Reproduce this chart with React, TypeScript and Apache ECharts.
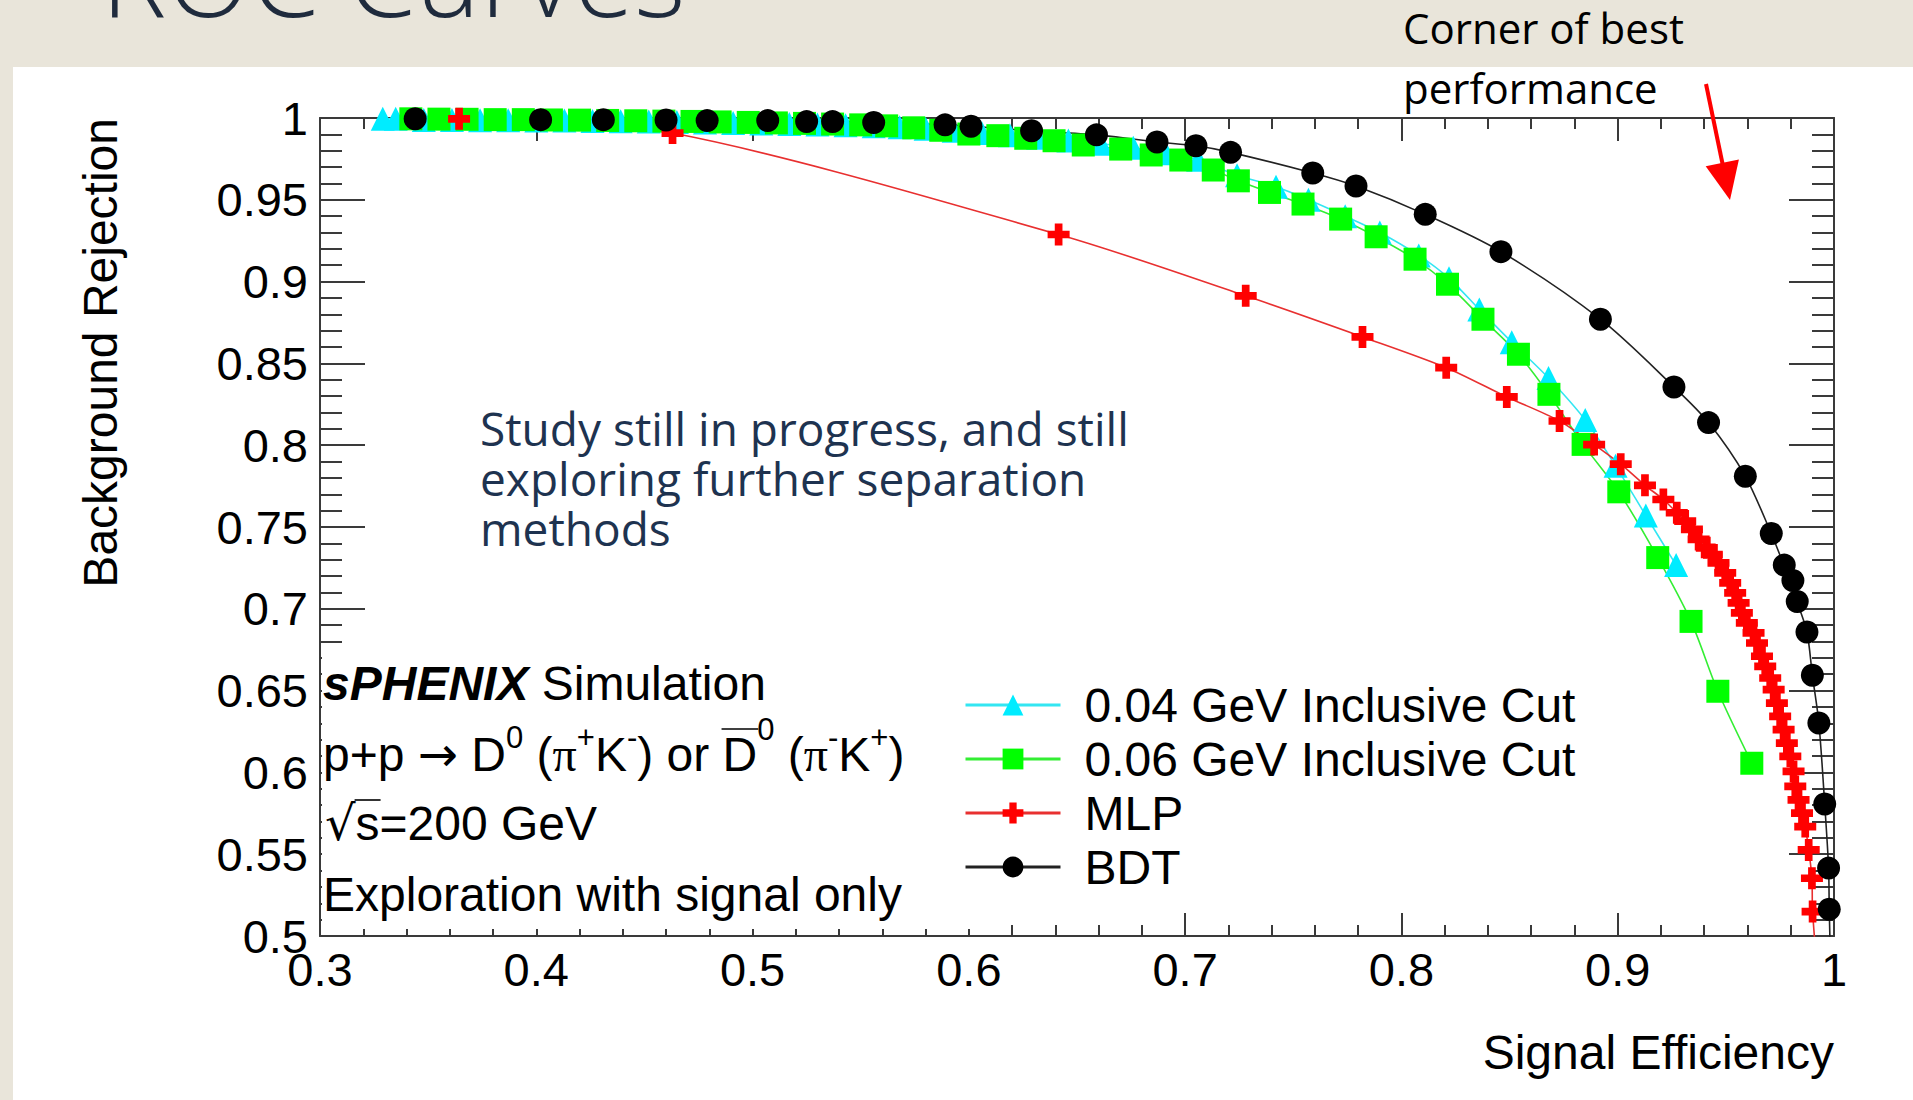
import React, { useEffect, useRef } from "react";
import * as echarts from "echarts";

// ROC curves: signal efficiency (x) against background rejection (y)
const CUT004_EFF = [
  0.329, 0.335, 0.348, 0.361, 0.374, 0.387, 0.4, 0.413, 0.426, 0.439, 0.452, 0.465, 0.478, 0.491, 0.504,
  0.517, 0.53, 0.543, 0.556, 0.568, 0.58, 0.593, 0.606, 0.619, 0.632, 0.646, 0.661, 0.676, 0.691, 0.706,
  0.724, 0.742, 0.757, 0.774, 0.79, 0.808, 0.822, 0.836, 0.851, 0.868, 0.885, 0.899, 0.913, 0.927,
];
const CUT004_REJ = [
  0.9995, 0.9995, 0.9988, 0.9988, 0.9987, 0.9986, 0.9985, 0.9984, 0.9982, 0.998, 0.9978, 0.9976, 0.9973,
  0.997, 0.9967, 0.9964, 0.996, 0.9955, 0.995, 0.9944, 0.9935, 0.9922, 0.9908, 0.9895, 0.988, 0.9863,
  0.9843, 0.9818, 0.9785, 0.9745, 0.965, 0.958, 0.95, 0.94, 0.93, 0.916, 0.902, 0.883, 0.863, 0.8411,
  0.8154, 0.7874, 0.757, 0.7267,
];

const CUT006_EFF = [
  0.342, 0.355, 0.368, 0.381, 0.394, 0.407, 0.42, 0.433, 0.446, 0.459, 0.472, 0.485, 0.498, 0.511, 0.524,
  0.537, 0.55, 0.562, 0.5745, 0.587, 0.6, 0.6134, 0.6263, 0.6394, 0.6529, 0.6702, 0.6843, 0.698, 0.713,
  0.7246, 0.739, 0.7545, 0.7719, 0.7883, 0.8063, 0.8213, 0.8377, 0.8541, 0.8682, 0.884, 0.9005, 0.9185,
  0.9339, 0.9463, 0.962,
];
const CUT006_REJ = [
  0.9995, 0.9993, 0.9992, 0.999, 0.999, 0.9988, 0.9987, 0.9985, 0.9983, 0.9981, 0.9979, 0.9976, 0.9973,
  0.997, 0.9967, 0.9963, 0.9958, 0.9952, 0.994, 0.9925, 0.9902, 0.9892, 0.9876, 0.9861, 0.9835, 0.981,
  0.9774, 0.9743, 0.9682, 0.9616, 0.9545, 0.9474, 0.9382, 0.9274, 0.9137, 0.8984, 0.877, 0.8556, 0.8311,
  0.8005, 0.7715, 0.7313, 0.6923, 0.6496, 0.6056,
];

const MLP_EFF = [
  0.3643, 0.463, 0.6415, 0.728, 0.782, 0.8207, 0.8487, 0.8731, 0.8891, 0.9014, 0.9126, 0.9211, 0.9273,
  0.9312, 0.9343, 0.9374, 0.9412, 0.9435, 0.9466, 0.9497, 0.952, 0.9543, 0.9559, 0.9574, 0.9597, 0.9628,
  0.9644, 0.9667, 0.9682, 0.9705, 0.9721, 0.9736, 0.9751, 0.9767, 0.9782, 0.9798, 0.9813, 0.9821, 0.9836,
  0.9852, 0.9867, 0.9883, 0.9898, 0.9901, 0.994,
];
const MLP_REJ = [
  0.9995, 0.9908, 0.9288, 0.8913, 0.8662, 0.8474, 0.8295, 0.8148, 0.8004, 0.7884, 0.7755, 0.7668, 0.7587,
  0.7536, 0.7485, 0.7424, 0.7373, 0.7332, 0.7281, 0.722, 0.7158, 0.7097, 0.7036, 0.6975, 0.6914, 0.6853,
  0.6791, 0.671, 0.6648, 0.6577, 0.6506, 0.6424, 0.6342, 0.6261, 0.6179, 0.6098, 0.6006, 0.5914, 0.5832,
  0.5751, 0.5669, 0.5526, 0.5353, 0.5149, 0.45,
];

const BDT_EFF = [
  0.344, 0.402, 0.431, 0.46, 0.479, 0.507, 0.525, 0.537, 0.556, 0.589, 0.601, 0.629, 0.659, 0.687, 0.705,
  0.721, 0.759, 0.779, 0.811, 0.846, 0.892, 0.926, 0.942, 0.959, 0.971, 0.977, 0.981, 0.983, 0.9875, 0.99,
  0.993, 0.9957, 0.9975, 0.9978, 0.999,
];
const BDT_REJ = [
  0.9995, 0.999, 0.999, 0.9988, 0.9984, 0.9984, 0.9978, 0.9978, 0.9973, 0.9958, 0.995, 0.9922, 0.9897,
  0.9853, 0.983, 0.979, 0.9664, 0.9584, 0.9411, 0.9183, 0.877, 0.8356, 0.8138, 0.781, 0.746, 0.7267,
  0.7173, 0.7045, 0.6858, 0.6594, 0.6302, 0.5807, 0.5415, 0.5164, 0.45,
];

const SERIES_NAMES = ["0.04 GeV Inclusive Cut", "0.06 GeV Inclusive Cut", "MLP", "BDT"];

const X_MIN = 0.3;
const X_MAX = 1;
const X_STEP = 0.1;
const Y_MIN = 0.5;
const Y_MAX = 1;
const Y_STEP = 0.05;

const ROOT_FONT = "Liberation Sans";
const SLIDE_FONT = "Open Sans";
const FRAME = "#3a3a3a";
const CROSS = "path://M6.5,0H13.5V6.5H20V13.5H13.5V20H6.5V13.5H0V6.5H6.5Z";
const TXT = 48;

type Seg = {
  t: string;
  size?: number;
  family?: string;
  weight?: string;
  fstyle?: string;
  dy?: number;
  bar?: number;
  skip?: boolean;
};

export default function App() {
  const ref = useRef<HTMLDivElement>(null);

  useEffect(() => {
    const el = ref.current;
    if (!el) return;
    const chart = echarts.init(el, null, { renderer: "svg" });

    const cvs = document.createElement("canvas");
    const ctx = cvs.getContext("2d") as CanvasRenderingContext2D;
    const measure = (s: Seg) => {
      ctx.font = `${s.fstyle || "normal"} ${s.weight || "normal"} ${s.size || TXT}px "${s.family || ROOT_FONT}"`;
      return ctx.measureText(s.t).width;
    };

    // lays out a line of TLatex-like text from left to right
    const latexLine = (x0: number, yc: number, segs: Seg[]) => {
      const out: any[] = [];
      let cx = x0;
      segs.forEach((s) => {
        const w = measure(s);
        if (!s.skip) {
          out.push({
            type: "text",
            z: 6,
            x: cx,
            y: yc + (s.dy || 0),
            style: {
              text: s.t,
              fontSize: s.size || TXT,
              fontFamily: s.family || ROOT_FONT,
              fontWeight: s.weight || "normal",
              fontStyle: s.fstyle || "normal",
              fill: "#000",
              align: "left",
              verticalAlign: "middle",
              textAlign: "left",
              textVerticalAlign: "middle",
            },
          });
        }
        if (s.bar !== undefined) {
          out.push({
            type: "line",
            z: 6,
            shape: { x1: cx - 1, y1: yc + s.bar, x2: cx + w + 1, y2: yc + s.bar },
            style: { stroke: "#000", lineWidth: 1.6 },
          });
        }
        cx += w;
      });
      return out;
    };

    const SP: Seg = { t: " ", skip: true };
    const SUP = 31;
    const LX = 323;

    const latex = [
      ...latexLine(LX, 683, [
        { t: "sPHENIX", weight: "bold", fstyle: "italic" },
        SP,
        { t: "Simulation" },
      ]),
      ...latexLine(LX, 754, [
        { t: "p+p" },
        SP,
        { t: "→", family: "DejaVu Sans" },
        SP,
        { t: "D" },
        { t: "0", size: SUP, dy: -17 },
        SP,
        { t: "(" },
        { t: "π", family: "Liberation Serif" },
        { t: "+", size: SUP, dy: -17 },
        { t: "K" },
        { t: "-", size: SUP, dy: -17 },
        { t: ")" },
        SP,
        { t: "or" },
        SP,
        { t: "D", bar: -25 },
        { t: "0", size: SUP, dy: -25 },
        SP,
        { t: "(" },
        { t: "π", family: "Liberation Serif" },
        { t: "-", size: SUP, dy: -17 },
        { t: "K" },
        { t: "+", size: SUP, dy: -17 },
        { t: ")" },
      ]),
      ...latexLine(LX + 2, 823, [{ t: "√", family: "DejaVu Sans" }, { t: "s", bar: -23 }, { t: "=200 GeV" }]),
      ...latexLine(LX, 894, [{ t: "Exploration with signal only" }]),
    ];

    const txt = (text: string, x: number, y: number, size: number, family: string, fill: string, extra: any = {}) => ({
      type: "text",
      x,
      y,
      z: 6,
      rotation: extra.rotation || 0,
      style: {
        text,
        fontSize: size,
        fontFamily: family,
        fill,
        lineHeight: extra.lineHeight,
        align: extra.align || "left",
        textAlign: extra.align || "left",
        verticalAlign: "middle",
        textVerticalAlign: "middle",
        fontWeight: extra.weight || "normal",
      },
    });

    const graphic: any[] = [
      { type: "rect", z: -10, shape: { x: 13, y: 67, width: 1913 - 13, height: 1100 - 67 }, style: { fill: "#ffffff" } },
      // white pave behind the simulation caption
      { type: "rect", z: 3, shape: { x: 322, y: 648, width: 660, height: 281 }, style: { fill: "#ffffff" } },
      txt("ROC Curves", 101, -26, 110, SLIDE_FONT, "#1f2b3d", { weight: 300 }),
      txt("Corner of best\nperformance", 1403, 57, 42, SLIDE_FONT, "#000", { lineHeight: 60 }),
      {
        type: "line",
        z: 6,
        shape: { x1: 1706, y1: 84, x2: 1723, y2: 166 },
        style: { stroke: "#ff0000", lineWidth: 4 },
      },
      {
        type: "polygon",
        z: 6,
        shape: { points: [[1730, 200], [1705.7, 166.3], [1738.9, 159.4]] },
        style: { fill: "#ff0000" },
      },
      txt(
        "Study still in progress, and still\nexploring further separation\nmethods",
        480,
        478,
        46,
        SLIDE_FONT,
        "#1e3350",
        { lineHeight: 50 }
      ),
      txt("Background Rejection", 100, 118, TXT, ROOT_FONT, "#000", { align: "right", rotation: Math.PI / 2 }),
      txt("Signal Efficiency", 1834, 1052, TXT, ROOT_FONT, "#000", { align: "right" }),
      ...latex,
    ];

    const pairs = (xs: number[], ys: number[]) => xs.map((x, i) => [x, ys[i]]);
    const curve = (name: string, xs: number[], ys: number[], fill: string, stroke: string, symbol: string, size: number) => ({
      name,
      type: "line",
      data: pairs(xs, ys),
      symbol,
      symbolSize: size,
      smooth: 0.3,
      clip: true,
      lineStyle: { color: stroke, width: 1.6 },
      itemStyle: { color: fill, borderWidth: 0 },
      emphasis: { disabled: true },
    });

    const valueAxisCommon = {
      type: "value",
      splitLine: { show: false },
      axisLine: { show: true, onZero: false, lineStyle: { color: FRAME, width: 2 } },
    };
    const tickLabel = {
      show: true,
      fontSize: 47,
      color: "#000",
      fontFamily: ROOT_FONT,
      showMinLabel: true,
      showMaxLabel: true,
      formatter: (v: number) => String(parseFloat(v.toFixed(2))),
    };

    const option: any = {
      animation: false,
      backgroundColor: "#e9e5da",
      textStyle: { fontFamily: ROOT_FONT },
      grid: { left: 320, right: 79, top: 118, bottom: 164, containLabel: false },
      xAxis: [
        {
          ...valueAxisCommon,
          position: "bottom",
          min: X_MIN,
          max: X_MAX,
          interval: X_STEP,
          axisTick: { show: true, inside: true, length: 23, lineStyle: { color: FRAME, width: 2 } },
          minorTick: { show: true, splitNumber: 5, length: 11, lineStyle: { color: FRAME, width: 2 } },
          axisLabel: { ...tickLabel, margin: 10 },
        },
        {
          ...valueAxisCommon,
          position: "top",
          min: X_MIN,
          max: X_MAX,
          interval: X_STEP,
          axisTick: { show: true, inside: true, length: 23, lineStyle: { color: FRAME, width: 2 } },
          minorTick: { show: true, splitNumber: 5, length: 11, lineStyle: { color: FRAME, width: 2 } },
          axisLabel: { show: false },
        },
      ],
      yAxis: [
        {
          ...valueAxisCommon,
          position: "left",
          min: Y_MIN,
          max: Y_MAX,
          interval: Y_STEP,
          axisTick: { show: true, inside: true, length: 45, lineStyle: { color: FRAME, width: 2 } },
          minorTick: { show: true, splitNumber: 5, length: 22, lineStyle: { color: FRAME, width: 2 } },
          axisLabel: { ...tickLabel, margin: 12 },
        },
        {
          ...valueAxisCommon,
          position: "right",
          min: Y_MIN,
          max: Y_MAX,
          interval: Y_STEP,
          axisTick: { show: true, inside: true, length: 45, lineStyle: { color: FRAME, width: 2 } },
          minorTick: { show: true, splitNumber: 5, length: 22, lineStyle: { color: FRAME, width: 2 } },
          axisLabel: { show: false },
        },
      ],
      legend: {
        orient: "vertical",
        left: 964,
        top: 681,
        z: 8,
        padding: 0,
        itemWidth: 95,
        itemHeight: 26,
        itemGap: 6,
        selectedMode: false,
        data: SERIES_NAMES,
        lineStyle: { width: 3 },
        textStyle: { fontSize: TXT, fontFamily: ROOT_FONT, color: "#000", padding: [0, 0, 0, 19] },
      },
      series: [
        curve(SERIES_NAMES[0], CUT004_EFF, CUT004_REJ, "#00ecff", "#33e6f2", "triangle", 24),
        curve(SERIES_NAMES[1], CUT006_EFF, CUT006_REJ, "#00ff00", "#33ee33", "rect", 23),
        curve(SERIES_NAMES[2], MLP_EFF, MLP_REJ, "#ff0000", "#e83030", CROSS, 22),
        curve(SERIES_NAMES[3], BDT_EFF, BDT_REJ, "#000000", "#222222", "circle", 23),
      ],
      graphic,
    };

    chart.setOption(option);
    return () => chart.dispose();
  }, []);

  return <div ref={ref} style={{ position: "absolute", left: 0, top: 0, width: 1913, height: 1100 }} />;
}
